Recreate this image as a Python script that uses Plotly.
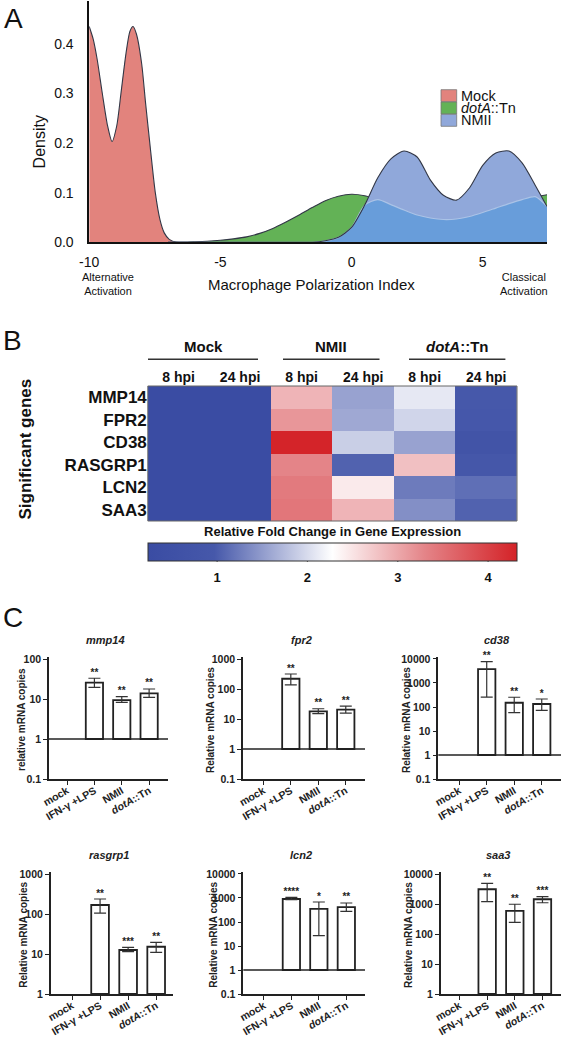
import numpy as np
import plotly.graph_objects as go

W, H = 566, 1038
def X(p): return p / W
def Y(p): return 1 - p / H

FONT = "Liberation Sans, Arial, sans-serif"

# ---------------- Panel A data (density of macrophage polarization index) ----------------
mock_x = [-10, -9.85, -9.7, -9.5, -9.3, -9.13, -8.95, -8.79, -8.6, -8.45, -8.33, -8.2,
          -8.0, -7.85, -7.69, -7.48, -7.3, -7.14, -6.95, -6.66, -6.0]
mock_y = [0.435, 0.41, 0.37, 0.30, 0.235, 0.203, 0.235, 0.30, 0.38, 0.425, 0.435, 0.42,
          0.36, 0.28, 0.20, 0.10, 0.045, 0.019, 0.006, 0.0, 0.0]

grid_x = [-7, -6.5, -6, -5.5, -5, -4.5, -4, -3.5, -3, -2.5, -2, -1.5, -1, -0.5, 0,
          0.5, 1, 1.5, 2, 2.5, 3, 3.5, 4, 4.5, 5, 5.5, 6, 6.5, 7, 7.45]
dota_y = [0, 0.0005, 0.001, 0.002, 0.004, 0.007, 0.011, 0.018, 0.028, 0.041, 0.055, 0.070,
          0.084, 0.093, 0.097, 0.094, 0.086, 0.076, 0.065, 0.055, 0.049, 0.046, 0.047, 0.052,
          0.060, 0.069, 0.078, 0.086, 0.092, 0.096]
nmii_y = [0, 0, 0, 0, 0, 0, 0, 0, 0, 0, 0, 0.0, 0.003, 0.010, 0.030, 0.075, 0.130, 0.168,
          0.184, 0.172, 0.126, 0.095, 0.085, 0.110, 0.155, 0.180, 0.184, 0.160, 0.115, 0.072]

density_names = ["Mock", "<i>dotA</i>::Tn", "NMII"]
a_xticks = [-10, -5, 0, 5]
a_xticktext = ["-10", "-5", "0", "5"]
a_yticks = [0, 0.1, 0.2, 0.3, 0.4]
a_yticktext = ["0.0", "0.1", "0.2", "0.3", "0.4"]

# ---------------- Panel B data (heatmap) ----------------
genes = ["MMP14", "FPR2", "CD38", "RASGRP1", "LCN2", "SAA3"]
conditions = ["Mock 8", "Mock 24", "NMII 8", "NMII 24", "dotA 8", "dotA 24"]
condition_labels = ["8 hpi", "24 hpi", "8 hpi", "24 hpi", "8 hpi", "24 hpi"]
groups = ["Mock", "NMII", "<i>dotA</i>::Tn"]
fold_change = [
    [0.25, 0.25, 2.90, 1.55, 2.10, 0.95],
    [0.25, 0.25, 3.15, 1.60, 1.95, 0.93],
    [0.25, 0.25, 4.30, 1.90, 1.55, 0.70],
    [0.25, 0.25, 3.30, 1.05, 2.80, 0.90],
    [0.25, 0.25, 3.40, 2.45, 1.25, 1.15],
    [0.25, 0.25, 3.45, 2.90, 1.40, 1.05],
]
cb_ticks = [1, 2, 3, 4]
Z_MIN, Z_MAX = 0.238, 4.32

# ---------------- Panel C data (qPCR) ----------------
treatments = ["mock", "IFN-γ +LPS", "NMII", "dotA::Tn"]
treatment_labels = ["mock", "IFN-γ +LPS", "NMII", "<i>dotA</i>::Tn"]

mmp14_mean = [1, 25.6, 9.4, 13.9]
mmp14_hi = [1, 33, 11.4, 17.8]
mmp14_lo = [1, 19.6, 8.2, 11]
mmp14_sig = ["", "**", "**", "**"]

fpr2_mean = [1, 220, 17.9, 20.4]
fpr2_hi = [1, 316, 22, 27]
fpr2_lo = [1, 138, 15, 15.8]
fpr2_sig = ["", "**", "**", "**"]

cd38_mean = [1, 3800, 150, 133]
cd38_hi = [1, 7700, 255, 215]
cd38_lo = [1, 260, 58, 73]
cd38_sig = ["", "**", "**", "*"]

rasgrp1_mean = [1, 168, 12.6, 15.2]
rasgrp1_hi = [1, 237, 14.7, 19.6]
rasgrp1_lo = [1, 105, 11.4, 11]
rasgrp1_sig = ["", "**", "***", "**"]

lcn2_mean = [1, 910, 350, 420]
lcn2_hi = [1, 1060, 680, 620]
lcn2_lo = [1, 850, 27, 276]
lcn2_sig = ["", "****", "*", "**"]

saa3_mean = [1, 3100, 590, 1440]
saa3_hi = [1, 4900, 980, 1750]
saa3_lo = [1, 1200, 245, 1100]
saa3_sig = ["", "**", "**", "***"]

# ---------------- styling ----------------
MOCK_C = "rgb(226,131,125)"
GREEN_C = "rgb(99,178,86)"
BLUE_LIGHT = "rgb(144,168,218)"
BLUE_OVER = "rgb(104,157,218)"
OUT = "rgb(50,55,70)"
DARK = "#222222"

fig = go.Figure()

# Panel A
spl = dict(shape="spline", smoothing=0.7)
fig.add_trace(go.Scatter(x=mock_x, y=mock_y, mode="lines", fill="tozeroy", fillcolor=MOCK_C,
                         line=dict(color=OUT, width=1.1, **spl), xaxis="x", yaxis="y",
                         showlegend=False, hoverinfo="skip"))
fig.add_trace(go.Scatter(x=grid_x, y=dota_y, mode="lines", fill="tozeroy", fillcolor=GREEN_C,
                         line=dict(color=OUT, width=1.1, **spl), xaxis="x", yaxis="y",
                         showlegend=False, hoverinfo="skip"))
fig.add_trace(go.Scatter(x=grid_x, y=nmii_y, mode="lines", fill="tozeroy", fillcolor=BLUE_LIGHT,
                         line=dict(color="rgba(0,0,0,0)", width=0.5, **spl), xaxis="x", yaxis="y",
                         showlegend=False, hoverinfo="skip"))
overlap_y = np.minimum(np.array(dota_y), np.array(nmii_y))
fig.add_trace(go.Scatter(x=grid_x, y=overlap_y, mode="lines", fill="tozeroy", fillcolor=BLUE_OVER,
                         line=dict(color="rgba(175,198,232,0.9)", width=1.2, **spl), xaxis="x", yaxis="y",
                         showlegend=False, hoverinfo="skip"))
fig.add_trace(go.Scatter(x=grid_x, y=nmii_y, mode="lines",
                         line=dict(color=OUT, width=1.1, **spl), xaxis="x", yaxis="y",
                         showlegend=False, hoverinfo="skip"))

# Panel B heatmap
CB_L, CB_R, CB_T, CB_B = 148.3, 517, 544, 561.7
fig.add_trace(go.Heatmap(
    z=fold_change, x=conditions, y=genes, xaxis="x2", yaxis="y2",
    zmin=Z_MIN, zmax=Z_MAX,
    colorscale=[[0, "rgb(58,76,163)"], [0.18, "rgb(70,88,170)"], [0.5, "rgb(255,255,255)"],
                [0.75, "rgb(228,132,136)"], [1, "rgb(212,34,39)"]],
    hoverinfo="skip",
    colorbar=dict(orientation="h", x=X((CB_L + CB_R) / 2), xanchor="center",
                  len=(CB_R - CB_L) / W, lenmode="fraction", thickness=CB_B - CB_T,
                  y=Y(527.5), yanchor="top", xpad=0, ypad=0,
                  outlinewidth=1, outlinecolor="#333",
                  tickvals=cb_ticks, ticks="outside", ticklen=5, tickcolor="rgba(0,0,0,0)",
                  tickfont=dict(size=13, family=FONT, color="#111", weight="bold"),
                  title=dict(text="<b>Relative Fold Change in Gene Expression</b>", side="top",
                             font=dict(size=13, family=FONT, color="#111"))),
))

# Panel C
charts = [
    ("mmp14", mmp14_mean, mmp14_hi, mmp14_lo, mmp14_sig, "relative mRNA copies",
     (49, 168), (657, 779), (-1, 2.05), [0.1, 1, 10, 100], (-0.66, 3.69), 21),
    ("fpr2", fpr2_mean, fpr2_hi, fpr2_lo, fpr2_sig, "Relative mRNA copies",
     (243, 365), (657, 779), (-1, 3.067), [0.1, 1, 10, 100, 1000], (-0.74, 3.70), 210),
    ("cd38", cd38_mean, cd38_hi, cd38_lo, cd38_sig, "Relative mRNA copies",
     (438.3, 561), (657, 779), (-1, 4.083), [0.1, 1, 10, 100, 1000, 10000], (-0.76, 3.70), 406),
    ("rasgrp1", rasgrp1_mean, rasgrp1_hi, rasgrp1_lo, rasgrp1_sig, "Relative mRNA copies",
     (50.7, 173), (872, 994), (0, 3.05), [1, 10, 100, 1000], (-0.76, 3.60), 22.7),
    ("lcn2", lcn2_mean, lcn2_hi, lcn2_lo, lcn2_sig, "Relative mRNA copies",
     (243.3, 365), (872, 994), (-1, 4.083), [0.1, 1, 10, 100, 1000, 10000], (-0.75, 3.68), 212.7),
    ("saa3", saa3_mean, saa3_hi, saa3_lo, saa3_sig, "Relative mRNA copies",
     (440.7, 561), (872, 994), (0, 4.067), [1, 10, 100, 1000, 10000], (-0.68, 3.67), 408),
]

layout_axes = {}
annotations = []
shapes = []

def fmt_tick(v):
    return "0.1" if v < 1 else str(int(v))

for i, (title, mean, hi, lo, sig, ylab, xd, yd, yr, ticks, xr, ytx) in enumerate(charts):
    n = i + 3
    xa, ya = f"x{n}", f"y{n}"
    fig.add_trace(go.Bar(x=treatments, y=[(m - 1) if m > 1 else None for m in mean], base=1,
                         width=0.63,
                         marker=dict(color="white", line=dict(color=DARK, width=1.8)),
                         xaxis=xa, yaxis=ya, showlegend=False, hoverinfo="skip"))
    fig.add_trace(go.Scatter(x=treatments[1:], y=mean[1:], mode="markers",
                             marker=dict(size=1, color="rgba(0,0,0,0)"),
                             error_y=dict(type="data", symmetric=False,
                                          array=[h - m for h, m in zip(hi[1:], mean[1:])],
                                          arrayminus=[m - l for m, l in zip(mean[1:], lo[1:])],
                                          color="#333", thickness=1.2, width=6),
                             xaxis=xa, yaxis=ya, showlegend=False, hoverinfo="skip"))
    fig.add_trace(go.Scatter(x=treatments[1:], y=hi[1:], mode="text", text=sig[1:],
                             textposition="top center", cliponaxis=False,
                             textfont=dict(size=10, family=FONT, color="#222", weight="bold"),
                             xaxis=xa, yaxis=ya, showlegend=False, hoverinfo="skip"))
    layout_axes[f"xaxis{n}"] = dict(
        domain=[X(xd[0]), X(xd[1])], anchor=ya, type="category", range=list(xr),
        tickvals=treatments, ticktext=treatment_labels, tickangle=-30, automargin=False,
        tickfont=dict(size=10.5, family=FONT, color="#222", weight="bold"), ticklabelstandoff=-4,
        showline=True, linecolor=DARK, linewidth=1.5, ticks="outside", ticklen=4,
        tickwidth=1.2, tickcolor=DARK, showgrid=False, zeroline=False)
    layout_axes[f"yaxis{n}"] = dict(
        domain=[Y(yd[1]), Y(yd[0])], anchor=xa, type="log", range=list(yr), automargin=False,
        tickvals=ticks, ticktext=[fmt_tick(t) for t in ticks],
        tickfont=dict(size=10.5, family=FONT, color="#222", weight="bold"),
        showline=True, linecolor=DARK, linewidth=1.5, ticks="outside", ticklen=4,
        tickwidth=1.2, tickcolor=DARK, showgrid=False, zeroline=False)
    if yr[0] < 0:
        # reference line at 1 (log10 = 0), placed in paper units from the axis range
        frac = (0 - yr[0]) / (yr[1] - yr[0])
        yline = Y(yd[1]) + frac * (Y(yd[0]) - Y(yd[1]))
        shapes.append(dict(type="line", xref="paper", x0=X(xd[0]), x1=X(xd[1]),
                           yref="paper", y0=yline, y1=yline,
                           line=dict(color=DARK, width=1.6)))
    annotations.append(dict(text=f"<b><i>{title}</i></b>", x=X((xd[0] + xd[1]) / 2 - 3),
                            y=Y(yd[0] - 17), font=dict(size=11, color="#222")))
    annotations.append(dict(text=f"<b>{ylab}</b>", x=X(ytx), y=Y((yd[0] + yd[1]) / 2 + 2),
                            textangle=-90, font=dict(size=10, color="#222")))

# colorbar inner tick marks at top and bottom edges
for v in cb_ticks:
    xp = CB_L + (v - Z_MIN) / (Z_MAX - Z_MIN) * (CB_R - CB_L)
    for (ya0, ya1) in [(CB_T, CB_T + 3), (CB_B - 3, CB_B)]:
        shapes.append(dict(type="line", xref="paper", yref="paper", x0=X(xp), x1=X(xp),
                           y0=Y(ya0), y1=Y(ya1), line=dict(color="#333", width=1.2)))

# Panel A custom legend
legend_cols = [MOCK_C, GREEN_C, BLUE_LIGHT]
for k, (nm, col) in enumerate(zip(density_names, legend_cols)):
    cy = 95.7 + k * 12.3
    shapes.append(dict(type="rect", xref="paper", yref="paper", x0=X(441), x1=X(456.7),
                       y0=Y(cy + 6), y1=Y(cy - 6), fillcolor=col, line=dict(color="#777", width=0.8)))
    annotations.append(dict(text=nm, x=X(458.5), y=Y(cy), xanchor="left",
                            font=dict(size=14.5)))

# Panel A labels
annotations += [
    dict(text="Density", x=X(39.7), y=Y(141.7), textangle=-90, font=dict(size=16)),
    dict(text="Macrophage Polarization Index", x=X(311), y=Y(284), font=dict(size=15)),
    dict(text="Alternative<br>Activation", x=X(108), y=Y(283.5), font=dict(size=11)),
    dict(text="Classical<br>Activation", x=X(523.5), y=Y(283.5), font=dict(size=11)),
    dict(text="A", x=X(13.5), y=Y(18), font=dict(size=28)),
    dict(text="B", x=X(12), y=Y(340), font=dict(size=28)),
    dict(text="C", x=X(13), y=Y(617), font=dict(size=28)),
    dict(text="<b>Significant genes</b>", x=X(24.5), y=Y(449), textangle=-90, font=dict(size=17)),
]
# Panel B group headers
group_spans = [(148, 258), (283, 379.5), (409, 505.4)]
for g, (a, b) in zip(groups, group_spans):
    annotations.append(dict(text=f"<b>{g}</b>", x=X((a + b) / 2), y=Y(346.7), font=dict(size=15)))
    shapes.append(dict(type="line", xref="paper", yref="paper", x0=X(a), x1=X(b),
                       y0=Y(359.3), y1=Y(359.3), line=dict(color="#333", width=1.5)))
# heatmap frame
shapes.append(dict(type="rect", xref="paper", yref="paper", x0=X(147.8), x1=X(517),
                   y0=Y(521), y1=Y(386), line=dict(color="#666", width=1)))

for a in annotations:
    a.setdefault("xref", "paper")
    a.setdefault("yref", "paper")
    a.setdefault("xanchor", "center")
    a.setdefault("yanchor", "middle")
    a.setdefault("showarrow", False)
    a["font"] = dict(family=FONT, color=a.get("font", {}).get("color", "#111"),
                     size=a.get("font", {}).get("size", 12))

fig.update_layout(
    template="none",
    width=W, height=H, margin=dict(l=0, r=0, t=0, b=0, pad=0, autoexpand=False),
    paper_bgcolor="white", plot_bgcolor="rgba(0,0,0,0)",
    font=dict(family=FONT, color="#111"),
    showlegend=False, barmode="overlay",
    xaxis=dict(domain=[X(89.2), X(547)], anchor="y", range=[-10, 7.45], automargin=False,
               tickvals=a_xticks, ticktext=a_xticktext, showline=True, linecolor="#111",
               linewidth=2, ticks="", showgrid=False, zeroline=False,
               tickfont=dict(size=14, family=FONT, color="#111"), ticklabelstandoff=6),
    yaxis=dict(domain=[Y(242.3), Y(1)], anchor="x", range=[0, 0.4865], automargin=False,
               tickvals=a_yticks, ticktext=a_yticktext, showline=True, linecolor="#111",
               linewidth=1.5, ticks="", showgrid=False, zeroline=False,
               tickfont=dict(size=14, family=FONT, color="#111"), ticklabelstandoff=11),
    xaxis2=dict(domain=[X(147.8), X(517)], anchor="y2", side="top", automargin=False,
                tickvals=conditions, ticktext=condition_labels, ticks="",
                showgrid=False, zeroline=False, showline=False,
                tickfont=dict(size=14, family=FONT, color="#111", weight="bold")),
    yaxis2=dict(domain=[Y(521), Y(386)], anchor="x2", autorange="reversed", ticks="",
                automargin=False, showgrid=False, zeroline=False, showline=False,
                tickfont=dict(size=17, family=FONT, color="#111", weight="bold")),
    annotations=annotations, shapes=shapes,
    **layout_axes,
)

fig.write_html("out.html", config={"displayModeBar": False},
               post_script="document.body.style.margin='0px';")
